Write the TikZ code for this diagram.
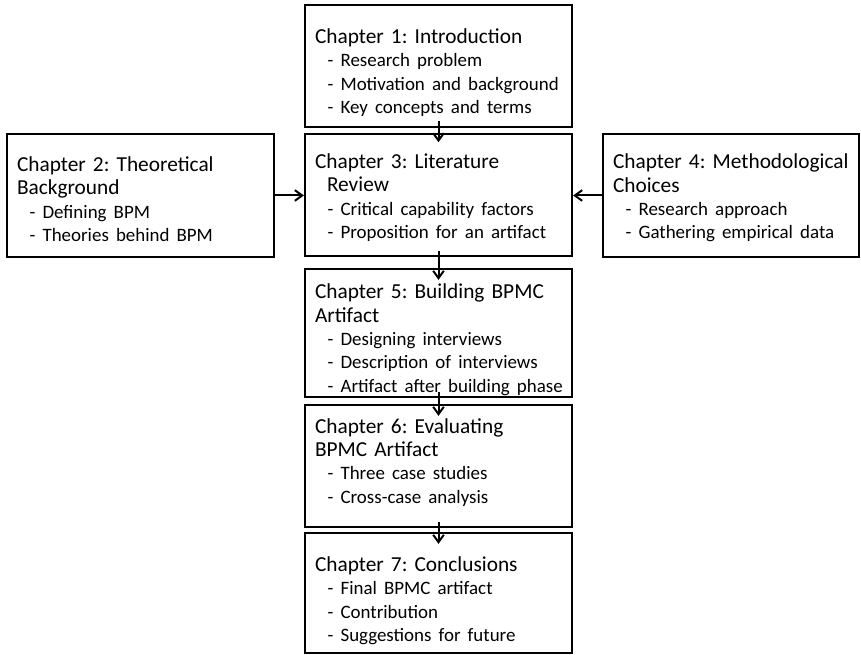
\documentclass[tikz,border=0pt]{standalone}
\usepackage{fontspec}
\setmainfont{Carlito}
\usetikzlibrary{arrows.meta}
% sub-items are set a little smaller than the chapter headings
\newcommand{\itm}[1]{\mbox{\fontsize{14.2pt}{17.5pt}\selectfont\hspace*{9.5pt}- #1}}
\begin{document}
\frenchspacing
\begin{tikzpicture}[x=0.75pt,y=-0.75pt,
  chapbox/.style={draw=black, line width=1.7pt, rectangle, align=left,
    inner xsep=7.5pt, inner ysep=0pt,
    font=\fontsize{16pt}{17.5pt}\selectfont},
  wide/.style={chapbox, minimum width=200.25pt, text width=185.25pt},
  % a tall strut on the first line moves the text block down a little
  lower/.style={execute at begin node={\rule{0pt}{#1}}},
  % a deep strut on the last line moves it up
  raise/.style={execute at end node={\rule[-#1]{0pt}{#1}}},
  flow/.style={line width=1.5pt, -{Straight Barb[length=5.5pt,width=8pt,line width=1.5pt]}}
]
\useasboundingbox (0,0) rectangle (861,655);

\node[wide, minimum height=91.5pt, lower=21pt] (ch1) at (438.5,66)
  {\mbox{Chapter 1: Introduction}\\ \itm{Research problem}\\ \itm{Motivation and background}\\ \itm{Key concepts and terms}};

\node[wide, minimum height=91.5pt, lower=15pt] (ch3) at (438.5,195)
  {\mbox{Chapter 3: Literature}\\ \mbox{\hspace*{9pt}Review}\\ \itm{Critical capability factors}\\ \itm{Proposition for an artifact}};

\node[wide, minimum height=92.25pt, lower=16.5pt] (ch2) at (140.5,195.5)
  {\mbox{Chapter 2: Theoretical}\\ Background\\ \itm{Defining BPM}\\ \itm{Theories behind BPM}};

\node[chapbox, minimum width=192pt, text width=177pt, minimum height=92.25pt, lower=15pt] (ch4) at (731,195.5)
  {\mbox{Chapter 4: Methodological}\\ Choices\\ \itm{Research approach}\\ \itm{Gathering empirical data}};

\node[wide, minimum height=96pt, lower=21pt] (ch5) at (438.5,333)
  {\mbox{Chapter 5: Building BPMC}\\ Artifact\\ \itm{Designing interviews}\\ \itm{Description of interviews}\\ \itm{Artifact after building phase}};

\node[wide, minimum height=91.5pt, raise=8pt] (ch6) at (438.5,466)
  {\mbox{Chapter 6: Evaluating}\\ \mbox{BPMC Artifact}\\ \itm{Three case studies}\\ \itm{Cross-case analysis}};

\node[wide, minimum height=90pt, lower=22.5pt] (ch7) at (438.5,593)
  {\mbox{Chapter 7: Conclusions}\\ \itm{Final BPMC artifact}\\ \itm{Contribution}\\ \itm{Suggestions for future}};

% vertical flow runs a little into both boxes
\draw[flow] ([yshift=5.5pt]ch1.south) -- ([yshift=-7pt]ch3.north);
\draw[flow] ([yshift=4.5pt]ch3.south) -- ([yshift=-9pt]ch5.north);
\draw[flow] ([yshift=4.5pt]ch5.south) -- ([yshift=-9pt]ch6.north);
\draw[flow] ([yshift=4.5pt]ch6.south) -- ([yshift=-9pt]ch7.north);

% side chapters feed into the literature review
\draw[flow] (ch2.east) -- (ch3.west |- ch2.east);
\draw[flow] (ch4.west) -- (ch3.east |- ch4.west);
\end{tikzpicture}
\end{document}
